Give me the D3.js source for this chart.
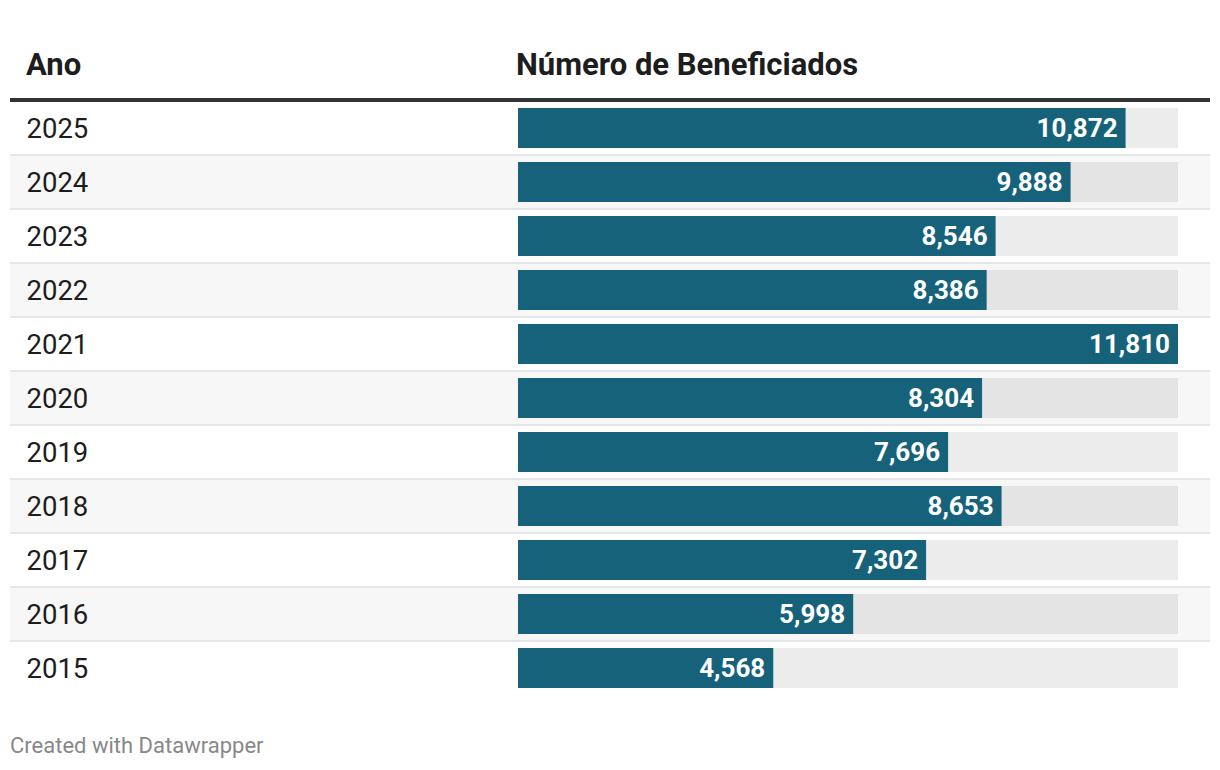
<!DOCTYPE html>
<html><head><meta charset="utf-8">
<script src="https://cdn.jsdelivr.net/npm/d3@7"></script>
<style>
html,body{margin:0;padding:0;background:#fff;}
svg{display:block;}
text{font-family:Roboto,"Noto Sans",sans-serif;}
</style></head>
<body>
<svg id="c" width="1220" height="770"></svg>
<script>
const years = ["2025","2024","2023","2022","2021","2020","2019","2018","2017","2016","2015"];
const values = [10872, 9888, 8546, 8386, 11810, 8304, 7696, 8653, 7302, 5998, 4568];
const headers = ["Ano", "Número de Beneficiados"];

(function(){
const svg = d3.select("#c");
const left = 10, right = 1210, tableTop = 102, rowH = 54;
const barX0 = 518, barX1 = 1178;

const x = d3.scaleLinear().domain([0, d3.max(values)]).range([barX0, barX1]);
const y = d3.scaleBand().domain(years).range([tableTop, tableTop + rowH * years.length]).padding(0);

svg.append("text").attr("x", 26).attr("y", 75).attr("font-size", 31).attr("font-weight", 700).attr("fill", "#1d1d1d").text(headers[0]);
svg.append("text").attr("x", 516).attr("y", 75).attr("font-size", 31).attr("font-weight", 700).attr("fill", "#1d1d1d").text(headers[1]);

const rows = svg.selectAll("g.row").data(years.map((d, i) => ({year: d, value: values[i], i})))
  .join("g").attr("class", "row").attr("transform", d => `translate(0,${y(d.year)})`);

rows.append("rect").attr("x", left).attr("y", 0).attr("width", right - left).attr("height", rowH)
  .attr("fill", d => d.i % 2 === 1 ? "#f7f7f7" : "#ffffff");
rows.filter(d => d.i < years.length - 1).append("rect").attr("x", left).attr("y", rowH - 2).attr("width", right - left).attr("height", 2)
  .attr("fill", "#e6e6e6");

rows.append("text").attr("x", 26.5).attr("y", 36).attr("font-size", 27.5).attr("fill", "#1d1d1d").text(d => d.year);

rows.append("rect").attr("x", barX0).attr("y", 6).attr("width", barX1 - barX0).attr("height", 40)
  .attr("fill", "rgba(0,0,0,0.075)");
rows.append("rect").attr("x", barX0).attr("y", 6).attr("width", d => x(d.value) - barX0).attr("height", 40)
  .attr("fill", "#17627b");
rows.append("text").attr("x", d => x(d.value) - 8).attr("y", 35).attr("text-anchor", "end")
  .attr("font-size", 26).attr("font-weight", 700).attr("fill", "#ffffff")
  .text(d => d3.format(",")(d.value));

svg.append("rect").attr("x", left).attr("y", 98).attr("width", right - left).attr("height", 4).attr("fill", "#333333");

svg.append("text").attr("x", 10).attr("y", 753).attr("font-size", 22).attr("fill", "#888888").text("Created with Datawrapper");
})();
</script>
</body></html>
